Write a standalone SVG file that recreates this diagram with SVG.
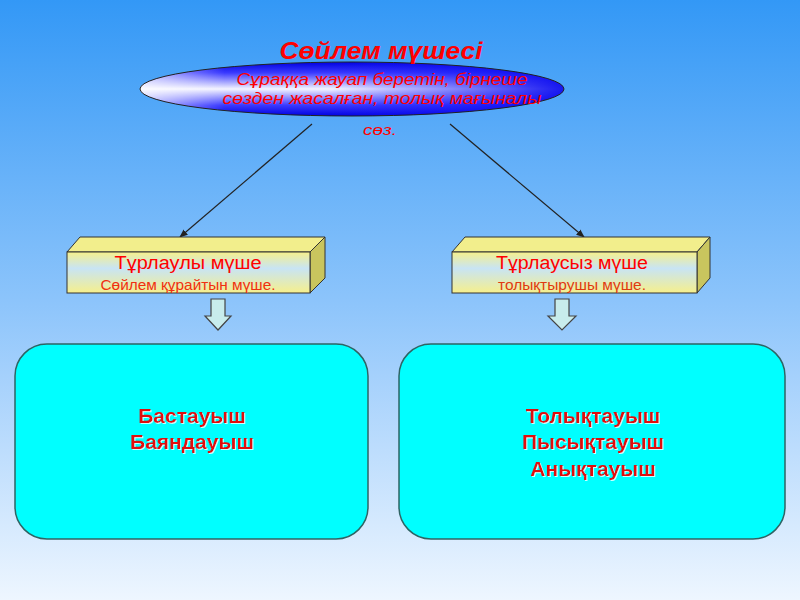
<svg xmlns="http://www.w3.org/2000/svg" width="800" height="600" viewBox="0 0 800 600">
<defs>
<linearGradient id="bg" x1="0" y1="0" x2="0" y2="1">
<stop offset="0" stop-color="#3398f6"/>
<stop offset="0.5" stop-color="#8cc4fb"/>
<stop offset="1" stop-color="#eef6ff"/>
</linearGradient>
<linearGradient id="ellv" x1="0" y1="0" x2="0" y2="1">
<stop offset="0" stop-color="#0000e0"/>
<stop offset="0.2" stop-color="#3a3aff"/>
<stop offset="0.5" stop-color="#f4f4ff"/>
<stop offset="0.8" stop-color="#3a3aff"/>
<stop offset="1" stop-color="#0000e0"/>
</linearGradient>
<linearGradient id="ellh" x1="0" y1="0" x2="1" y2="0">
<stop offset="0" stop-color="#ffffff" stop-opacity="0.7"/>
<stop offset="0.2" stop-color="#ffffff" stop-opacity="0"/>
<stop offset="0.45" stop-color="#2020ff" stop-opacity="0"/>
<stop offset="1" stop-color="#0000ee" stop-opacity="0.9"/>
</linearGradient>
<linearGradient id="front" x1="0" y1="0" x2="0" y2="1">
<stop offset="0" stop-color="#f6f08c"/>
<stop offset="0.4" stop-color="#c8e4f4"/>
<stop offset="1" stop-color="#f6f08c"/>
</linearGradient>
<marker id="ah" viewBox="0 0 10 10" refX="9" refY="5" markerWidth="7" markerHeight="7" orient="auto">
<path d="M0,1 L10,5 L0,9 z" fill="#222"/>
</marker>
<filter id="sh" x="-10%" y="-20%" width="120%" height="140%">
<feDropShadow dx="1" dy="1" stdDeviation="0.4" flood-color="#ffffff" flood-opacity="0.8"/>
</filter>
</defs>
<style>
.t{font-family:"Liberation Sans",Arial,sans-serif;fill:#ff0000;text-anchor:middle}
.it{font-style:italic}
.box-top{fill:#f2ee8c;stroke:#333;stroke-width:1}
.box-side{fill:#c9c55e;stroke:#333;stroke-width:1}
.box-front{fill:url(#front);stroke:#333;stroke-width:1}
.darr{fill:#c8ecec;stroke:#444;stroke-width:1.2}
.rr{fill:#00ffff;stroke:#2e6464;stroke-width:1.5}
.big{font-weight:bold;font-size:21px;fill:#e01010}
.conn{stroke:#222;stroke-width:1.2;fill:none}
</style>
<rect x="0" y="0" width="800" height="600" fill="url(#bg)"/>

<g id="connectors">
<line class="conn" x1="312" y1="124" x2="180" y2="237" marker-end="url(#ah)"/>
<line class="conn" x1="450" y1="124" x2="584" y2="237" marker-end="url(#ah)"/>
</g>

<g id="root">
<ellipse cx="352" cy="89" rx="212" ry="27" fill="url(#ellv)"/>
<ellipse cx="352" cy="89" rx="212" ry="27" fill="url(#ellh)" stroke="#222" stroke-width="1"/>
<text class="t it" x="381" y="59" font-size="24" font-weight="bold" textLength="203" lengthAdjust="spacingAndGlyphs">Сөйлем мүшесі</text>
<text class="t it" x="382" y="85" font-size="16.5" textLength="291" lengthAdjust="spacingAndGlyphs">Сұраққа жауап беретін, бірнеше</text>
<text class="t it" x="382" y="104" font-size="16.5" textLength="319" lengthAdjust="spacingAndGlyphs">сөзден жасалған, толық мағыналы</text>
<text class="t it" x="380" y="135" font-size="15" textLength="34" lengthAdjust="spacingAndGlyphs">сөз.</text>
</g>

<g id="left-box">
<polygon class="box-top" points="67,252 80,237 325,237 310,252"/>
<polygon class="box-side" points="310,252 325,237 325,278 310,293"/>
<rect class="box-front" x="67" y="252" width="243" height="41"/>
<text class="t" x="188" y="269" font-size="18" textLength="147" lengthAdjust="spacingAndGlyphs">Тұрлаулы мүше</text>
<text class="t" x="188" y="290" font-size="14" textLength="175" lengthAdjust="spacingAndGlyphs" style="fill:#f03010">Сөйлем құрайтын мүше.</text>
</g>

<g id="right-box">
<polygon class="box-top" points="452,252 465,237 710,237 697,252"/>
<polygon class="box-side" points="697,252 710,237 710,278 697,293"/>
<rect class="box-front" x="452" y="252" width="245" height="41"/>
<text class="t" x="572" y="269" font-size="18" textLength="152" lengthAdjust="spacingAndGlyphs">Тұрлаусыз мүше</text>
<text class="t" x="572" y="290" font-size="14" textLength="148" lengthAdjust="spacingAndGlyphs" style="fill:#e03a10">толықтырушы мүше.</text>
</g>

<g id="left-arrow">
<polygon class="darr" points="211,299 225,299 225,316 231,316 218,330 205,316 211,316"/>
</g>
<g id="right-arrow">
<polygon class="darr" points="555,299 569,299 569,316 576,316 562,330 548,316 555,316"/>
</g>

<g id="left-group">
<rect class="rr" x="15" y="344" width="353" height="195" rx="32" ry="32"/>
<text class="t big" x="192" y="423" filter="url(#sh)">Бастауыш</text>
<text class="t big" x="192" y="449" filter="url(#sh)">Баяндауыш</text>
</g>

<g id="right-group">
<rect class="rr" x="399" y="344" width="386" height="195" rx="32" ry="32"/>
<text class="t big" x="593" y="423" filter="url(#sh)">Толықтауыш</text>
<text class="t big" x="593" y="449" filter="url(#sh)">Пысықтауыш</text>
<text class="t big" x="593" y="476" filter="url(#sh)">Анықтауыш</text>
</g>
</svg>
